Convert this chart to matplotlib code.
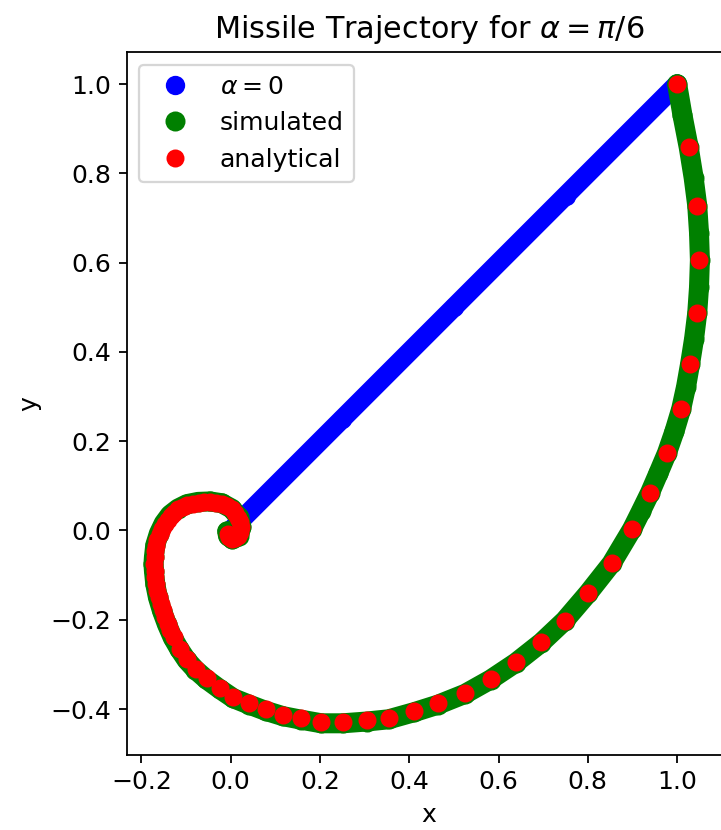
import matplotlib
matplotlib.use('Agg')
import matplotlib.pyplot as plt

# straight-line path for alpha = 0
blue_x = [1.0, 0.75, 0.5, 0.25, 0.0]
blue_y = [1.0, 0.75, 0.5, 0.25, 0.0]

# simulated trajectory (read along the green band)
sim_x = [1.0, 1.012, 1.026, 1.037, 1.045, 1.049, 1.051, 1.049, 1.045, 1.038, 1.029, 1.020,
         1.009, 0.994, 0.977, 0.958, 0.939, 0.919, 0.899, 0.853, 0.801, 0.748, 0.696, 0.639,
         0.582, 0.525, 0.465, 0.411, 0.354, 0.305, 0.251, 0.203, 0.158, 0.117, 0.078, 0.041,
         0.006, -0.025, -0.055, -0.079, -0.099, -0.115, -0.130, -0.143, -0.154, -0.163, -0.169,
         -0.172, -0.173, -0.172, -0.169, -0.161, -0.150, -0.136, -0.118, -0.098, -0.073, -0.046,
         -0.020, 0.002, 0.018, 0.024, 0.018, 0.004, -0.006, -0.008]
sim_y = [1.0, 0.930, 0.858, 0.790, 0.728, 0.667, 0.606, 0.545, 0.487, 0.430, 0.373, 0.322,
         0.272, 0.222, 0.173, 0.128, 0.084, 0.043, 0.003, -0.074, -0.140, -0.202, -0.251, -0.296,
         -0.334, -0.366, -0.390, -0.407, -0.423, -0.428, -0.432, -0.432, -0.424, -0.416, -0.404, -0.390,
         -0.376, -0.355, -0.333, -0.312, -0.290, -0.266, -0.240, -0.210, -0.180, -0.150, -0.120,
         -0.090, -0.075, -0.060, -0.033, -0.007, 0.016, 0.035, 0.049, 0.059, 0.064, 0.065,
         0.061, 0.049, 0.030, 0.008, -0.013, -0.020, -0.012, -0.002]

# analytical trajectory points
ana_x = [1.0, 1.026, 1.045, 1.050, 1.045, 1.029, 1.009, 0.977, 0.939, 0.899, 0.853, 0.801,
         0.748, 0.696, 0.639, 0.582, 0.525, 0.465, 0.411, 0.354, 0.305, 0.251, 0.203, 0.158,
         0.117, 0.078, 0.041, 0.006, -0.025, -0.054, -0.077, -0.097, -0.113, -0.128, -0.135,
         -0.141, -0.147, -0.152, -0.157, -0.161, -0.164, -0.167, -0.169, -0.170, -0.171, -0.170,
         -0.169, -0.167, -0.164, -0.159, -0.154, -0.148, -0.141, -0.134, -0.126, -0.117, -0.107,
         -0.097, -0.085, -0.072, -0.059, -0.046, -0.033, -0.020, -0.008, 0.002, 0.010, 0.017,
         0.021, 0.023, 0.021, 0.017, 0.010, 0.002, -0.004, -0.006]
ana_y = [1.0, 0.858, 0.728, 0.606, 0.487, 0.373, 0.272, 0.173, 0.084, 0.003, -0.074, -0.140,
         -0.202, -0.250, -0.295, -0.332, -0.364, -0.387, -0.404, -0.421, -0.425, -0.430, -0.430, -0.421,
         -0.413, -0.401, -0.387, -0.373, -0.352, -0.330, -0.310, -0.288, -0.265, -0.239, -0.224,
         -0.209, -0.194, -0.179, -0.165, -0.150, -0.135, -0.120, -0.105, -0.090, -0.075, -0.060,
         -0.047, -0.034, -0.021, -0.008, 0.003, 0.014, 0.024, 0.033, 0.040, 0.047, 0.052,
         0.057, 0.060, 0.062, 0.063, 0.063, 0.062, 0.059, 0.054, 0.047, 0.039, 0.029,
         0.019, 0.008, -0.003, -0.012, -0.017, -0.019, -0.015, -0.008]

plt.rcParams['font.size'] = 11.2

dpi = 162
fig = plt.figure(figsize=(721 / dpi, 830 / dpi), dpi=dpi)
ax = fig.add_axes([0.1757, 0.0907, 0.8387, 0.8467])

# thick lines under the dense markers so the bands stay continuous
ax.plot(blue_x, blue_y, '-', color='blue', lw=8.6, solid_capstyle='round', label='_nolegend_')
ax.plot(blue_x, blue_y, 'o', color='blue', ms=7.6, label=r'$\alpha = 0$')
ax.plot(sim_x, sim_y, '-', color='green', lw=8.9, solid_capstyle='round', solid_joinstyle='round',
        label='_nolegend_')
ax.plot(sim_x, sim_y, 'o', color='green', ms=7.9, label='simulated')
ax.plot(ana_x, ana_y, 'o', color='red', ms=7.0, label='analytical')

ax.set_xlim(-0.233, 1.1215)
ax.set_ylim(-0.5024, 1.072)
ax.set_title(r'Missile Trajectory for $\alpha = \pi/6$')
ax.set_xlabel('x')
ax.set_ylabel('y')
ax.legend(loc='upper left')

fig.savefig('out.png', dpi=dpi)
